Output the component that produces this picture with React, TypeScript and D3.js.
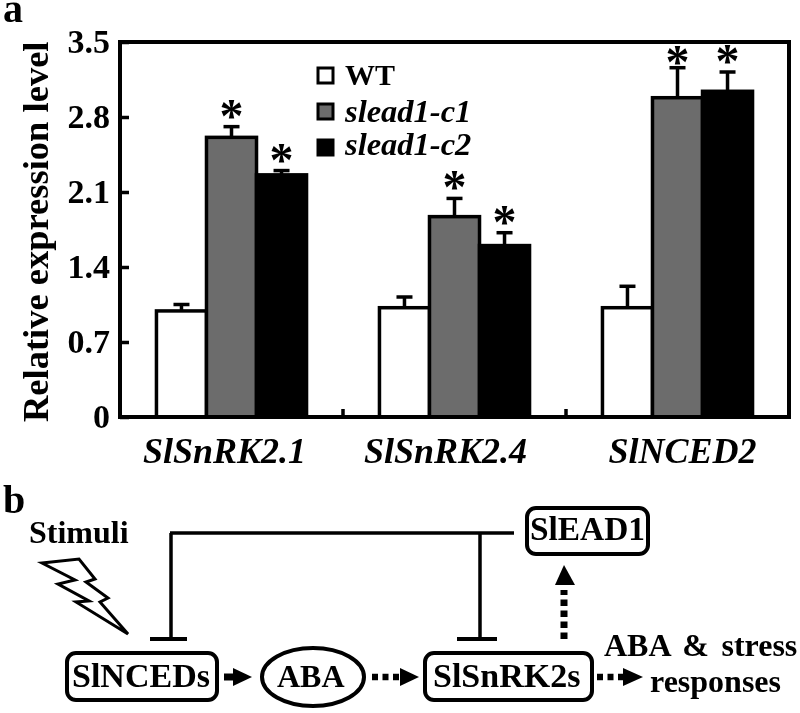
import React, { useEffect, useRef } from 'react';
import * as d3 from 'd3';

const genes = ['SlSnRK2.1', 'SlSnRK2.4', 'SlNCED2'];
const seriesNames = ['WT', 'slead1-c1', 'slead1-c2'];
const seriesColors = ['#ffffff', '#6c6c6c', '#000000'];
const yTicks = [0, 0.7, 1.4, 2.1, 2.8, 3.5];

const wtValues = [0.99, 1.02, 1.02];
const c1Values = [2.61, 1.87, 2.98];
const c2Values = [2.26, 1.6, 3.04];

const wtErrors = [0.06, 0.1, 0.2];
const c1Errors = [0.1, 0.17, 0.28];
const c2Errors = [0.04, 0.12, 0.18];

const seriesValues = [wtValues, c1Values, c2Values];
const seriesErrors = [wtErrors, c1Errors, c2Errors];

const FONT = '"Liberation Serif", serif';

const App = () => {
  const svgRef = useRef<SVGSVGElement>(null);

  useEffect(() => {
    const svg = d3.select(svgRef.current);
    svg.selectAll('*').remove();

    const filter = svg.append('defs').append('filter').attr('id', 'soft');
    filter.append('feGaussianBlur').attr('stdDeviation', 0.55);

    const root = svg
      .append('g')
      .attr('filter', 'url(#soft)')
      .style('font-family', FONT)
      .style('font-weight', 'bold');

    const left = 120;
    const right = 789;
    const top = 42;
    const bottom = 417;

    const x = d3
      .scaleBand()
      .domain(genes)
      .range([left, right])
      .paddingInner(0.327)
      .paddingOuter(0.1635);
    const xInner = d3
      .scaleBand()
      .domain(seriesNames)
      .range([0, x.bandwidth()]);
    const y = d3.scaleLinear().domain([0, 3.5]).range([bottom, top]);

    // panel letters
    root.append('text').attr('x', 3).attr('y', 22).style('font-size', '40px').text('a');
    root.append('text').attr('x', 3).attr('y', 513).style('font-size', '40px').text('b');

    // bars
    seriesNames.forEach((name, s) => {
      const barG = root.append('g');
      barG
        .selectAll('rect')
        .data(genes)
        .enter()
        .append('rect')
        .attr('x', d => x(d) + xInner(name))
        .attr('y', (d, i) => y(seriesValues[s][i]))
        .attr('width', xInner.bandwidth())
        .attr('height', (d, i) => bottom - y(seriesValues[s][i]))
        .attr('fill', seriesColors[s])
        .attr('stroke', '#000')
        .attr('stroke-width', 3.5);

      // error bars
      genes.forEach((g, i) => {
        const cx = x(g) + xInner(name) + xInner.bandwidth() / 2;
        const errTop = y(seriesValues[s][i] + seriesErrors[s][i]);
        barG
          .append('line')
          .attr('x1', cx)
          .attr('x2', cx)
          .attr('y1', y(seriesValues[s][i]))
          .attr('y2', errTop)
          .attr('stroke', '#000')
          .attr('stroke-width', 3.5);
        barG
          .append('line')
          .attr('x1', cx - 8)
          .attr('x2', cx + 8)
          .attr('y1', errTop)
          .attr('y2', errTop)
          .attr('stroke', '#000')
          .attr('stroke-width', 3.5);
        if (s > 0) {
          // the star over the tallest error bar sits closer to it
          const lift = s === 1 && i === 2 ? 10 : 5;
          barG
            .append('text')
            .attr('x', cx)
            .attr('y', errTop + lift)
            .attr('text-anchor', 'middle')
            .style('font-size', '48px')
            .text('*');
        }
      });
    });

    // frame
    root
      .append('rect')
      .attr('x', left)
      .attr('y', top)
      .attr('width', right - left)
      .attr('height', bottom - top)
      .attr('fill', 'none')
      .attr('stroke', '#000')
      .attr('stroke-width', 4);

    // y axis
    const yAxis = root
      .append('g')
      .attr('transform', `translate(${left}, 0)`)
      .call(
        d3
          .axisLeft(y)
          .tickValues(yTicks)
          .tickSizeInner(-9)
          .tickSizeOuter(0)
          .tickPadding(10)
          .tickFormat(d => (d === 0 ? '0' : d3.format('.1f')(d))),
      );
    yAxis.select('.domain').remove();
    yAxis.selectAll('line').attr('stroke', '#000').attr('stroke-width', 3.5);
    yAxis
      .selectAll('text')
      .attr('fill', '#000')
      .style('font-family', FONT)
      .style('font-size', '34px');

    root
      .append('text')
      .attr('transform', `translate(48, 422) rotate(-90)`)
      .style('font-size', '36.5px')
      .text('Relative expression level');

    // x axis labels, nudged to where the figure has them
    const labelNudge = [-7, -9, 5];
    const xAxis = root
      .append('g')
      .attr('transform', `translate(0, ${bottom})`)
      .call(d3.axisBottom(x).tickSize(0));
    xAxis.select('.domain').remove();
    xAxis
      .selectAll('text')
      .attr('fill', '#000')
      .attr('y', 46)
      .attr('dy', 0)
      .attr('dx', (d, i) => labelNudge[i])
      .style('font-family', FONT)
      .style('font-style', 'italic')
      .style('font-size', '36px');

    // little ticks between groups
    genes.slice(1).forEach(g => {
      const gap = x(g) - (x.step() - x.bandwidth()) / 2;
      root
        .append('line')
        .attr('x1', gap)
        .attr('x2', gap)
        .attr('y1', bottom)
        .attr('y2', bottom - 8)
        .attr('stroke', '#000')
        .attr('stroke-width', 3.5);
    });

    // legend
    const legendY = [75, 111, 147];
    const legendBase = [85, 122, 155];
    seriesNames.forEach((name, i) => {
      root
        .append('rect')
        .attr('x', 318)
        .attr('y', legendY[i] - 7)
        .attr('width', 15)
        .attr('height', 15)
        .attr('fill', seriesColors[i])
        .attr('stroke', '#000')
        .attr('stroke-width', 3);
      root
        .append('text')
        .attr('x', 345)
        .attr('y', legendBase[i])
        .style('font-size', i === 0 ? '30px' : '32.5px')
        .style('font-style', i === 0 ? 'normal' : 'italic')
        .text(name);
    });

    //////////
    // PANEL B
    //////////
    const line = (x1, y1, x2, y2, w = 3.5) =>
      root
        .append('line')
        .attr('x1', x1)
        .attr('y1', y1)
        .attr('x2', x2)
        .attr('y2', y2)
        .attr('stroke', '#000')
        .attr('stroke-width', w);

    const label = (txt, tx, ty, size) =>
      root
        .append('text')
        .attr('x', tx)
        .attr('y', ty)
        .style('font-size', `${size}px`)
        .text(txt);

    const box = (x0, y0, x1, y1) =>
      root
        .append('rect')
        .attr('x', x0)
        .attr('y', y0)
        .attr('width', x1 - x0)
        .attr('height', y1 - y0)
        .attr('rx', 9)
        .attr('fill', '#fff')
        .attr('stroke', '#000')
        .attr('stroke-width', 4);

    const head = points =>
      root.append('path').attr('d', d3.line()(points) + 'Z').attr('fill', '#000');

    label('Stimuli', 29, 543, 32);

    root
      .append('path')
      .attr(
        'd',
        d3.line()([
          [42, 563],
          [79, 559],
          [95, 579],
          [86, 582],
          [108, 598],
          [100, 602],
          [128, 634],
          [76, 602],
          [89, 601],
          [58, 584],
          [75, 580],
        ]) + 'Z',
      )
      .attr('fill', '#fff')
      .attr('stroke', '#000')
      .attr('stroke-width', 3)
      .attr('stroke-linejoin', 'miter');

    // inhibition lines
    line(170, 533, 514, 533);
    line(171, 533, 171, 639);
    line(150, 639, 187, 639, 4);
    line(480, 533, 480, 639);
    line(457, 639, 497, 639, 4);

    // nodes
    box(67, 653, 217, 700);
    label('SlNCEDs', 72, 687, 34);
    root
      .append('ellipse')
      .attr('cx', 313)
      .attr('cy', 677)
      .attr('rx', 51)
      .attr('ry', 29)
      .attr('fill', '#fff')
      .attr('stroke', '#000')
      .attr('stroke-width', 4);
    label('ABA', 277, 687, 32);
    box(425, 653, 592, 700);
    label('SlSnRK2s', 433, 687, 34);
    box(527, 508, 648, 554);
    label('SlEAD1', 530, 540, 33.4);

    // arrows
    line(224, 677, 238, 677, 7);
    head([
      [233, 668],
      [252, 677],
      [233, 686],
    ]);
    line(372, 677, 400, 677, 6.5).attr('stroke-dasharray', '6 4.5');
    head([
      [400, 668],
      [419, 677],
      [400, 686],
    ]);
    line(597, 677, 623, 677, 6.5).attr('stroke-dasharray', '6 4.5');
    head([
      [623, 668],
      [643, 677],
      [623, 686],
    ]);
    line(564, 639, 564, 590, 7).attr('stroke-dasharray', '6.5 4.5');
    head([
      [555, 585],
      [564, 565],
      [575, 585],
    ]);

    label('ABA & stress', 604, 656, 32).style('word-spacing', '4.5px');
    label('responses', 650, 692, 32);
  }, []);

  return (
    <svg
      ref={svgRef}
      width={800}
      height={713}
      style={{ position: 'absolute', left: 0, top: 0, background: '#fff' }}
    />
  );
};

export default App;
